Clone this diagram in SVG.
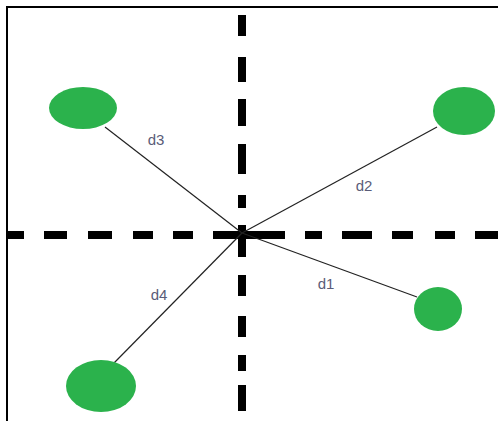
<svg xmlns="http://www.w3.org/2000/svg" width="498" height="421" viewBox="0 0 498 421">
<style>
.node{fill:#2bb24c}
.edge{stroke:#222;stroke-width:1.2;fill:none}
.axis{stroke:#000;stroke-width:8;fill:none}
.lbl{font-family:"Liberation Sans",Arial,sans-serif;font-size:15px;fill:#5a5c78;text-anchor:middle}
</style>
<rect width="498" height="421" fill="#fff"/>
<path d="M7 421V7H498" stroke="#000" stroke-width="2" fill="none"/>
<g id="axes">
<path class="axis" d="M242 15V36M242 57V82M242 99V126M242 144V174M242 195V208M242 225V257M242 275V296M242 316V337M242 355V371M242 385V411"/>
<path class="axis" d="M7 235H24M44 235H67M88 235H112M133 235H153M173 235H193M213 235H285M305 235H322M342 235H372M392 235H413M435 235H455M475 235H498"/>
</g>
<g id="connectors">
<line class="edge" x1="105" y1="127" x2="242" y2="233"/>
<line class="edge" x1="437" y1="127" x2="242" y2="233"/>
<line class="edge" x1="242" y1="233" x2="417" y2="297"/>
<line class="edge" x1="242" y1="233" x2="114" y2="363"/>
<text class="lbl" x="156" y="145">d3</text>
<text class="lbl" x="364" y="191">d2</text>
<text class="lbl" x="326" y="289">d1</text>
<text class="lbl" x="159" y="300">d4</text>
</g>
<g id="n3"><ellipse class="node" cx="83" cy="108" rx="34" ry="21"/></g>
<g id="n2"><ellipse class="node" cx="464" cy="111" rx="31" ry="24"/></g>
<g id="n1"><ellipse class="node" cx="438" cy="309" rx="24" ry="22"/></g>
<g id="n4"><ellipse class="node" cx="101" cy="386" rx="35" ry="26"/></g>
</svg>
